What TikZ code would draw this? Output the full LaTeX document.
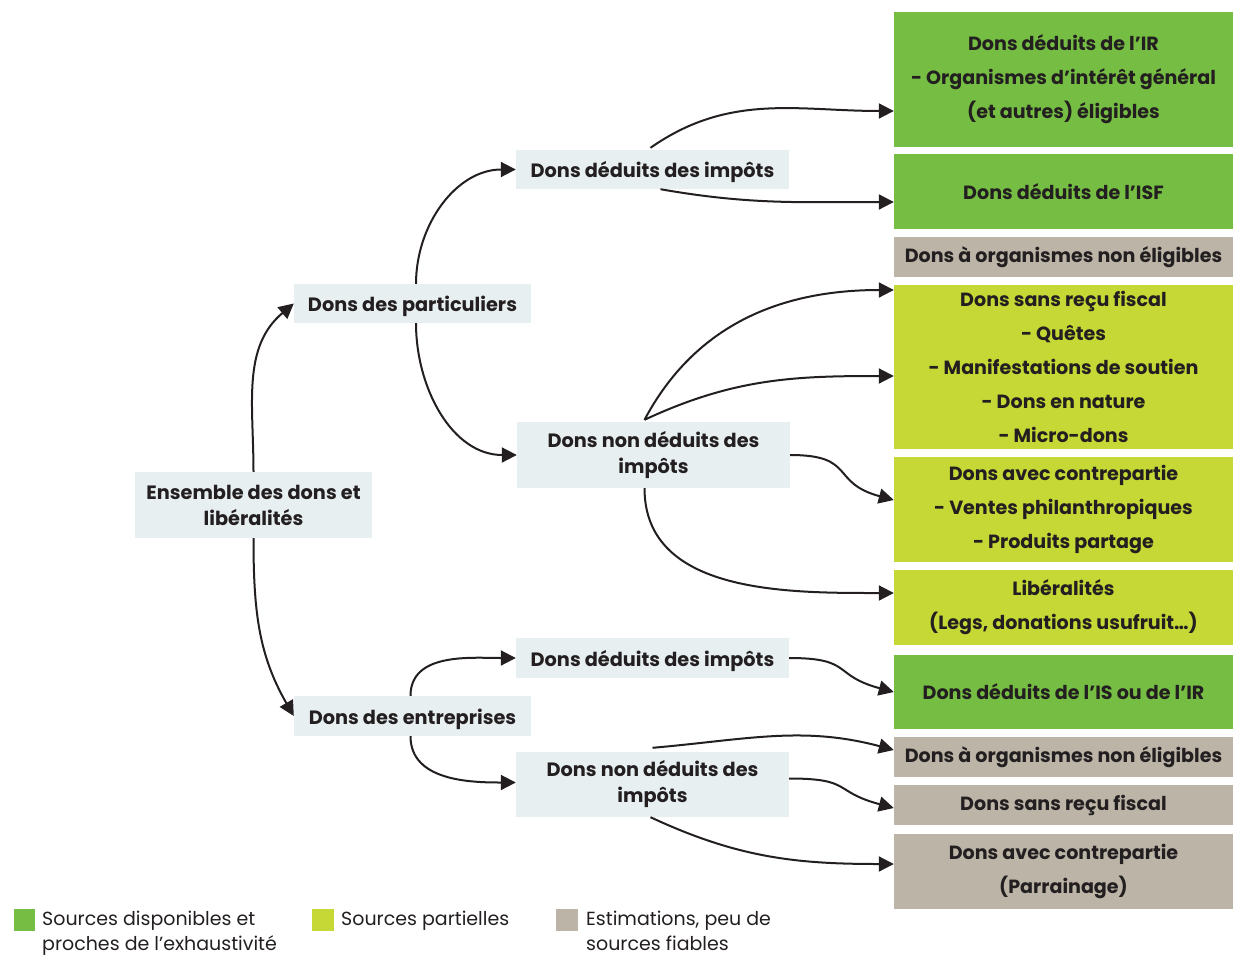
\documentclass[tikz,border=0pt]{standalone}
\usepackage{fontspec}
\setmainfont{Poppins}
\usetikzlibrary{arrows.meta, calc, positioning}
\definecolor{boxblue}{HTML}{E8EFF1}
\definecolor{srcgreen}{HTML}{76BD43}
\definecolor{srcyellow}{HTML}{C5D836}
\definecolor{srcgrey}{HTML}{BBB4A7}
\definecolor{inkdark}{HTML}{231F20}
\tikzset{
	catbox/.style={fill=boxblue, text=inkdark, align=center, inner sep=0pt,
		font=\fontsize{19.3}{26}\selectfont\bfseries, minimum width=237pt,
		execute at begin node={\rule{0pt}{1.1em}}},
	subbox/.style={catbox, minimum width=273pt},
	resbox/.style={text=inkdark, align=center, inner sep=0pt,
		font=\fontsize{19.1}{34}\selectfont\bfseries, minimum width=339pt},
	green/.style={resbox, fill=srcgreen},
	yellow/.style={resbox, fill=srcyellow},
	grey/.style={resbox, fill=srcgrey},
	conn/.style={-{Triangle[length=15pt,width=15pt]}, line width=2pt, draw=inkdark},
	legtext/.style={text=inkdark, align=left, inner sep=0pt, anchor=north west,
		font=\fontsize{19}{25}\selectfont}
}
\begin{document}
\begin{tikzpicture}[x=1pt,y=1pt]
	\useasboundingbox (0,0) rectangle (1233,-958);
	
	% left and middle columns
	\node[catbox, minimum height=66pt] (ens) at (253.5,-505) {Ensemble des dons et\\libéralités};
	\node[catbox, minimum height=39pt] (part) at (412.5,-303.5) {Dons des particuliers};
	\node[catbox, minimum height=40pt] (entr) at (412.5,-716) {Dons des entreprises};
	
	\node[subbox, minimum height=39pt] (pdd) at (652.5,-169.5) {Dons déduits des impôts};
	\node[subbox, minimum height=66pt] (pnd) at (653.5,-455) {Dons non déduits des\\impôts};
	\node[subbox, minimum height=40pt] (edd) at (652.5,-658) {Dons déduits des impôts};
	\node[subbox, minimum height=65pt] (end) at (652.5,-784.5) {Dons non déduits des\\impôts};
	
	% right column
	\node[green, minimum height=135pt] (ir) at (1063.5,-79.5) {Dons déduits de l’IR\\- Organismes d’intérêt général\\(et autres) éligibles};
	\node[green, minimum height=75pt] (isf) at (1063.5,-191.5) {Dons déduits de l’ISF};
	\node[grey, minimum height=40pt] (pne) at (1063.5,-257) {Dons à organismes non éligibles};
	\node[yellow, minimum height=164pt] (psr) at (1063.5,-367) {Dons sans reçu fiscal\\- Quêtes\\- Manifestations de soutien\\- Dons en nature\\- Micro-dons};
	\node[yellow, minimum height=105pt] (pcp) at (1063.5,-509.5) {Dons avec contrepartie\\- Ventes philanthropiques\\- Produits partage};
	\node[yellow, minimum height=75pt] (lib) at (1063.5,-607.5) {Libéralités\\(Legs, donations usufruit…)};
	\node[green, minimum height=74pt] (isir) at (1063.5,-692) {Dons déduits de l’IS ou de l’IR};
	\node[grey, minimum height=40pt] (ene) at (1063.5,-757) {Dons à organismes non éligibles};
	\node[grey, minimum height=40pt] (esr) at (1063.5,-805) {Dons sans reçu fiscal};
	\node[grey, minimum height=75pt] (ecp) at (1063.5,-871.5) {Dons avec contrepartie\\(Parrainage)};
	
	% connectors
	\draw[conn] (ens.north) to[out=90,in=220] (part.west);
	\draw[conn] (ens.south) to[out=-90,in=120] (entr.west);
	\draw[conn] ($(part.north)+(3.5,0)$) to[out=90,in=180] (pdd.west);
	\draw[conn] ($(part.south)+(3.5,0)$) to[out=-90,in=180] (pnd.west);
	
	\draw[conn] ($(pdd.north)+(-2,2)$) to[out=35,in=180] ($(ir.west)+(0,-31.5)$);
	\draw[conn] ($(pdd.south)+(8,0)$) to[out=-10,in=180] ($(isf.west)+(0,-10.5)$);
	\draw[conn] ($(pnd.north)+(-9,2)$) to[out=62,in=180] ($(psr.west)+(0,77)$);
	\draw[conn] ($(pnd.north)+(-9,2)$) to[out=25,in=180] ($(psr.west)+(0,-9)$);
	\draw[conn] (pnd.east) to[out=0,in=165,looseness=1.5] ($(pcp.west)+(0,9.5)$);
	\draw[conn] ($(pnd.south)+(-9,0)$) to[out=-90,in=180] ($(lib.west)+(0,14.5)$);
	
	\draw[conn] ($(entr.north)+(-2,0)$) to[out=90,in=180] (edd.west);
	\draw[conn] ($(entr.south)+(-2,0)$) to[out=-90,in=180] ($(end.west)+(0,2)$);
	\draw[conn] (edd.east) to[out=0,in=165,looseness=1.5] (isir.west);
	\draw[conn] ($(end.north)+(0,4)$) to[out=5,in=165] ($(ene.west)+(0,7)$);
	\draw[conn] ($(end.east)+(0,6)$) to[out=0,in=165,looseness=1.5] ($(esr.west)+(0,-3)$);
	\draw[conn] ($(end.south)+(-2,0)$) to[out=-25,in=180] ($(ecp.west)+(0,7.5)$);
	
	% legend
	\fill[srcgreen] (14,-909) rectangle (35,-931);
	\fill[srcyellow] (312,-909) rectangle (334,-931);
	\fill[srcgrey] (556,-909) rectangle (578,-931);
	\node[legtext] (lg1) at (42,-911) {Sources disponibles et\\proches de l’exhaustivité};
	\node[legtext] (lg2) at (341,-911) {Sources partielles};
	\node[legtext] (lg3) at (586,-911) {Estimations, peu de\\sources fiables};
\end{tikzpicture}
\end{document}
